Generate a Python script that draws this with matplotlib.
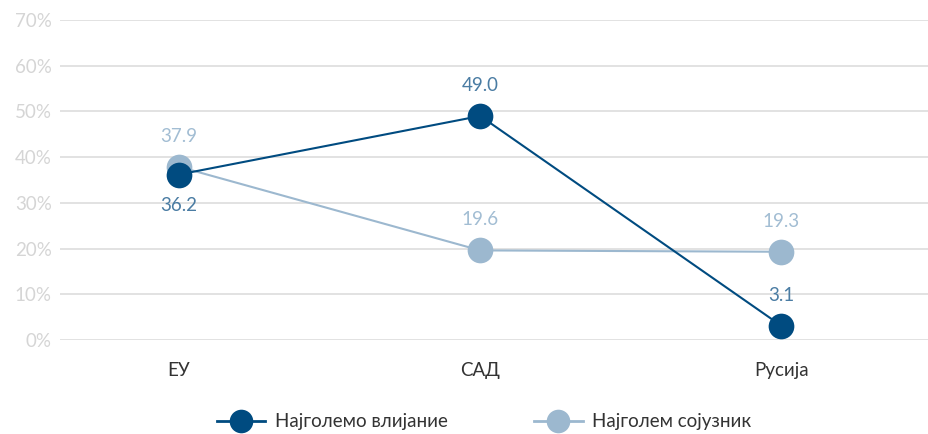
import matplotlib
matplotlib.use("Agg")
import matplotlib.pyplot as plt
from matplotlib.lines import Line2D

plt.rcParams["font.family"] = ["Lato", "DejaVu Sans"]

CATEGORIES = ["ЕУ", "САД", "Русија"]
INFLUENCE = [36.2, 49.0, 3.1]
ALLY = [37.9, 19.6, 19.3]
INFLUENCE_LABEL_OFFSET = [-1, 1, 1]   # -1 below, 1 above
Y_TICKS = [0, 10, 20, 30, 40, 50, 60, 70]

DARK = "#004B80"
LIGHT = "#9CB8CF"
DARK_TEXT = "#4A7CA3"
LIGHT_TEXT = "#A2BDD3"

fig = plt.figure(figsize=(9.29, 4.34), dpi=100)
ax = fig.add_axes([60 / 929, 1 - 340 / 434, 869 / 929, 320 / 434])

x = list(range(len(CATEGORIES)))

ax.plot(x, ALLY, color=LIGHT, linewidth=1.5, marker="o", markersize=18.5,
        markeredgewidth=0, zorder=3)
ax.plot(x, INFLUENCE, color=DARK, linewidth=1.5, marker="o", markersize=18.5,
        markeredgewidth=0, zorder=4)

for xi, v in zip(x, ALLY):
    ax.annotate(f"{v:.1f}", (xi, v), xytext=(0, 22), textcoords="offset points",
                ha="center", va="center", fontsize=13.5, color=LIGHT_TEXT)
for xi, v, d in zip(x, INFLUENCE, INFLUENCE_LABEL_OFFSET):
    ax.annotate(f"{v:.1f}", (xi, v), xytext=(0, 22 * d), textcoords="offset points",
                ha="center", va="center", fontsize=13.5, color=DARK_TEXT)

ax.set_ylim(0, 70)
ax.set_xlim(-0.395, 2.49)
ax.set_yticks(Y_TICKS)
ax.set_yticklabels([f"{t}%" for t in Y_TICKS], fontsize=13.5, color="#D5D5D5")
ax.set_xticks(x)
ax.set_xticklabels(CATEGORIES, fontsize=13.5, color="#333333")
ax.tick_params(axis="both", length=0)
ax.tick_params(axis="x", pad=16)
ax.tick_params(axis="y", pad=6)
ax.grid(True, axis="y", color="#DDDDDD", linewidth=1.2)
ax.set_axisbelow(True)
for s in ax.spines.values():
    s.set_visible(False)

handles = [
    Line2D([], [], color=DARK, linewidth=2, marker="o", markersize=17, markeredgewidth=0),
    Line2D([], [], color=LIGHT, linewidth=2, marker="o", markersize=17, markeredgewidth=0),
]
fig.legend(handles, ["Најголемо влијание", "Најголем сојузник"], loc="center",
           bbox_to_anchor=(484 / 929, 1 - 422 / 434), ncol=2, frameon=False,
           fontsize=13.5, handlelength=2.6, columnspacing=4.6, handletextpad=0.5,
           labelcolor="#333333")

fig.savefig("out.png", dpi=100)
